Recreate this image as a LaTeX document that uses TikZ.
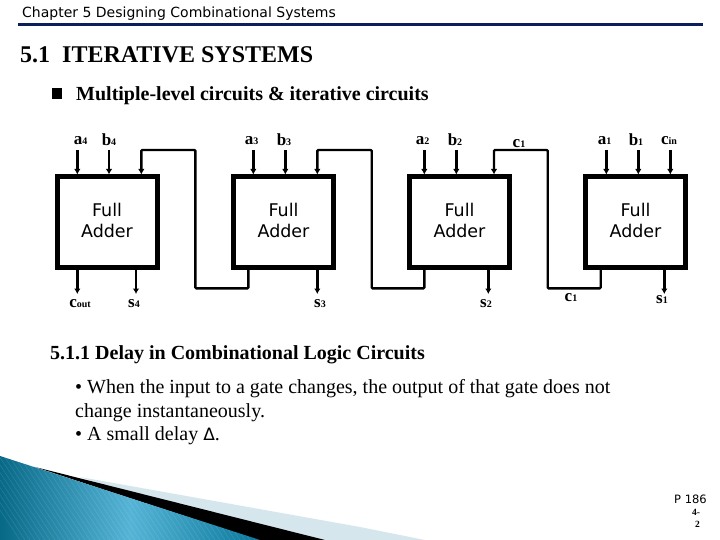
\documentclass[tikz,border=0pt]{standalone}
\usepackage{fontspec}
\setmainfont{Liberation Serif}
\newfontfamily\dv{DejaVu Sans}
\newcommand{\fs}[1]{\fontsize{#1}{#1}\selectfont}
\usetikzlibrary{arrows.meta}
\definecolor{navy}{HTML}{0B1F5C}
\definecolor{band}{RGB}{214,230,237}
\definecolor{tealA}{RGB}{8,105,135}
\definecolor{tealB}{RGB}{85,180,214}
\definecolor{tealC}{RGB}{10,120,155}
\tikzset{
  x=1pt,y=-1pt,
  fa/.style={draw=black,line width=5pt,minimum width=100pt,minimum height=90pt,inner sep=0pt,fill=white},
  fatext/.style={inner sep=0pt,align=center,font=\dv\fs{17.5}\linespread{1.2}\selectfont},
  wire/.style={draw=black,line width=2.4pt},
  arr/.style={wire,-{Latex[length=5.5pt,width=6.5pt]}},
  lab/.style={inner sep=0pt,font=\bfseries\fs{17}},
  txt/.style={inner sep=0pt,anchor=base west},
}
\newcommand{\sbb}[1]{\fs{10}#1}
\begin{document}
\begin{tikzpicture}
\useasboundingbox (0,0) rectangle (720,540);
\fill[white] (0,0) rectangle (720,540);
% decorative corner
\fill[band] (80,477) -- (360,527) -- (425,540) -- (260,540) -- cycle;
\fill[black] (35,467) -- (325,540) -- (258,540) -- cycle;
\begin{scope}
\clip (0,456) -- (260,540) -- (0,540) -- cycle;
\shade[left color=tealA,right color=tealC,middle color=tealB] (0,450) rectangle (260,540);
\foreach \i in {0,5,...,300}{
  \draw[white,opacity=0.12,line width=0.5pt] (\i-40,450) -- (\i+20,540);
}
\end{scope}
% header
\node[txt,font=\dv\fs{14}] (hdr) at (22,18) {Chapter 5 Designing Combinational Systems};
\coordinate (ruleL) at (18,24.5);
\coordinate (ruleR) at (703,24.5);
\draw[navy,line width=3pt] (ruleL) -- (ruleR);
\node[txt,font=\bfseries\fs{24}] (title) at (20,63) {5.1\ \ ITERATIVE SYSTEMS};
\fill[black] (52,88) rectangle (62,99);
\node[txt,font=\bfseries\fs{20}] (sub) at (76,101) {Multiple-level circuits \& iterative circuits};
% boxes
\node[fa] (fa4) at (107,222) {};
\node[fa] (fa3) at (283.5,222) {};
\node[fa] (fa2) at (459.5,222) {};
\node[fa] (fa1) at (635.5,222) {};
\foreach \n in {fa4,fa3,fa2,fa1}{
  \node[fatext] at ([yshift=2pt]\n.center) {Full\\Adder};
}
% inputs
\foreach \n/\x in {a4/77.3,b4/109,a3/253.3,b3/285.3,a2/424.3,b2/456.3,a1/606.3,b1/638.3,ci/670.3}{
  \coordinate (\n) at (\x,150);
  \draw[arr] (\n) -- (\x,174.5);
}
% carries
\coordinate (c4t) at (141.3,150);
\coordinate (c3t) at (317.3,150);
\coordinate (c2t) at (494,150);
\draw[arr,rounded corners=1pt] (248.3,269) -- (248.3,288.3) -- (195.3,288.3) -- (195.3,150) -- (c4t) -- (141.3,174.5);
\draw[arr,rounded corners=1pt] (424.3,269) -- (424.3,288.3) -- (371.7,288.3) -- (371.7,150) -- (c3t) -- (317.3,174.5);
\draw[arr,rounded corners=1pt] (600.7,269) -- (600.7,288.3) -- (547.7,288.3) -- (547.7,150) -- (c2t) -- (494,174.5);
% outputs
\foreach \x in {77.3,136,317.3,488.3,664.3}{
  \draw[arr] (\x,269) -- (\x,294);
}
% labels
\node[lab] (la4) at (80.5,141) {a\sbb{4}};
\node[lab] (lb4) at (109,140) {b\sbb{4}};
\node[lab] (la3) at (251.5,141) {a\sbb{3}};
\node[lab] (lb3) at (284,140) {b\sbb{3}};
\node[lab] (la2) at (422.5,141) {a\sbb{2}};
\node[lab] (lb2) at (455,140) {b\sbb{2}};
\node[lab] (lc1t) at (519,144) {c\sbb{1}};
\node[lab] (la1) at (604.5,141) {a\sbb{1}};
\node[lab] (lb1) at (636,140) {b\sbb{1}};
\node[lab] (lci) at (669,141) {c\sbb{in}};
\node[lab] (lco) at (80,304) {c\sbb{out}};
\node[lab] (ls4) at (134,304) {s\sbb{4}};
\node[lab] (ls3) at (320,304) {s\sbb{3}};
\node[lab] (ls2) at (486,304) {s\sbb{2}};
\node[lab] (lc1b) at (571,298) {c\sbb{1}};
\node[lab] (ls1) at (662,300) {s\sbb{1}};
% text
\node[txt,font=\bfseries\fs{20}] (sec) at (50,359) {5.1.1 Delay in Combinational Logic Circuits};
\node[txt,font=\fs{20}] (l1) at (75,393) {\textbullet\ When the input to a gate changes, the output of that gate does not};
\node[txt,font=\fs{20}] (l2) at (75,417) {change instantaneously.};
\node[txt,font=\fs{20}] (l3) at (75,440) {\textbullet\ A small delay {\dv\fs{17}Δ}.};
\node[txt,font=\dv\fs{11.5}] (pg) at (674,503) {P 186};
\node[txt,font=\bfseries\fs{9.5}] (n1) at (692,515) {4-};
\node[txt,font=\bfseries\fs{9.5}] (n2) at (695,527) {2};
\end{tikzpicture}
\end{document}
